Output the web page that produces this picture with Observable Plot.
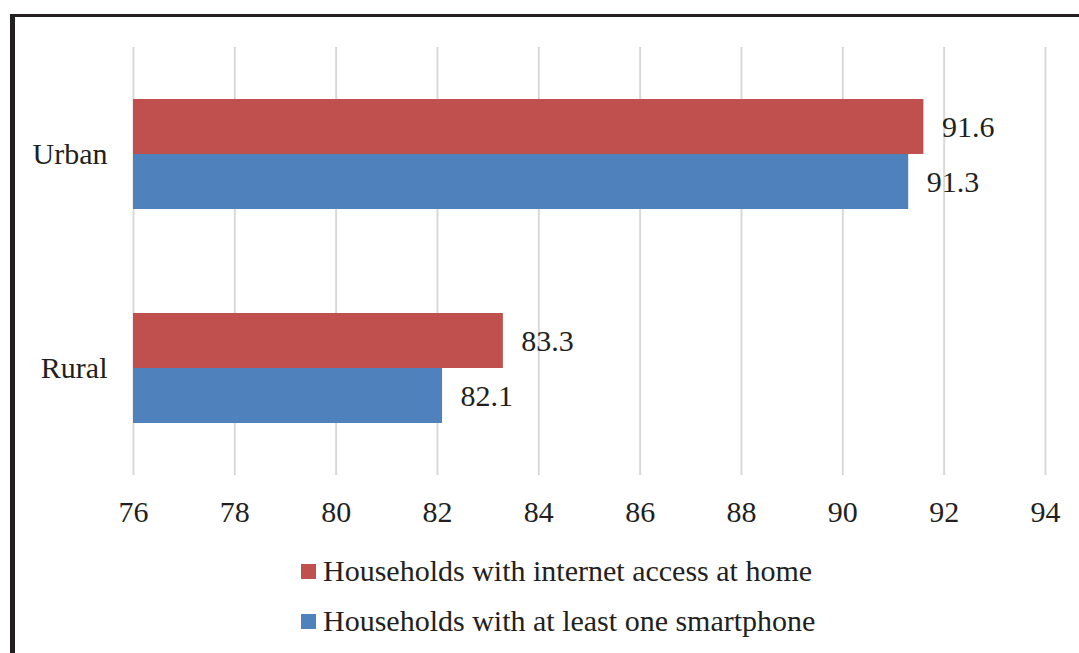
<!DOCTYPE html>
<html>
<head>
<meta charset="utf-8">
<script src="https://cdn.jsdelivr.net/npm/d3@7"></script>
<script src="https://cdn.jsdelivr.net/npm/@observablehq/plot@0.6"></script>
<style>
  html, body { margin: 0; padding: 0; background: #fff; }
  body { width: 1079px; height: 653px; position: relative; overflow: hidden; font-family: "Liberation Serif", "Times New Roman", serif; color: #231f20; }
  #chart { position: absolute; left: 0; top: 0; }
  #frame { position: absolute; left: 10px; top: 14px; right: 0; bottom: 0; border-top: 3px solid #231f20; border-left: 5px solid #231f20; pointer-events: none; }
  .legend-row { position: absolute; left: 301px; display: flex; align-items: center; font-size: 30px; line-height: 30px; white-space: nowrap; }
  .swatch { width: 15px; height: 15px; margin-right: 7px; flex: none; }
</style>
</head>
<body>
<div id="chart"></div>
<div id="frame"></div>
<div id="legend"></div>
<script>
const categories = ["Urban", "Rural"];
const series = ["Households with internet access at home", "Households with at least one smartphone"];
const internetValues = [91.6, 83.3];
const smartphoneValues = [91.3, 82.1];
const xDomain = [76, 94];
const xTicks = [76, 78, 80, 82, 84, 86, 88, 90, 92, 94];
const colors = ["#c0504d", "#4f81bd"];

const data = categories.flatMap((c, i) => [
  {cat: c, series: series[0], value: internetValues[i]},
  {cat: c, series: series[1], value: smartphoneValues[i]}
]);

const chart = Plot.plot({
  width: 1079,
  height: 540,
  marginLeft: 133,
  marginRight: 34,
  marginTop: 47,
  marginBottom: 65,
  style: {fontFamily: "'Liberation Serif', 'Times New Roman', serif", fontSize: "30px", color: "#231f20", background: "transparent"},
  x: {domain: xDomain, ticks: xTicks, tickSize: 0, tickPadding: 25, label: null},
  fy: {domain: categories, padding: 0, tickSize: 0, tickPadding: 26, label: null},
  y: {domain: series, paddingInner: 0, paddingOuter: 0.911, axis: null},
  color: {domain: series, range: colors},
  marks: [
    Plot.gridX(xTicks, {stroke: "#d9d9d9", strokeOpacity: 1, strokeWidth: 2}),
    Plot.barX(data, {fy: "cat", y: "series", x1: xDomain[0], x2: "value", fill: "series"}),
    Plot.text(data, {fy: "cat", y: "series", x: "value", text: d => d.value.toFixed(1), dx: 18, textAnchor: "start", fontSize: 30, fill: "#231f20"})
  ]
});
document.getElementById("chart").appendChild(chart);

const legend = document.getElementById("legend");
const rowTops = [556, 606];
series.forEach((s, i) => {
  const row = document.createElement("div");
  row.className = "legend-row";
  row.style.top = rowTops[i] + "px";
  const sw = document.createElement("span");
  sw.className = "swatch";
  sw.style.background = colors[i];
  const label = document.createElement("span");
  label.textContent = s;
  row.appendChild(sw);
  row.appendChild(label);
  legend.appendChild(row);
});
</script>
</body>
</html>
